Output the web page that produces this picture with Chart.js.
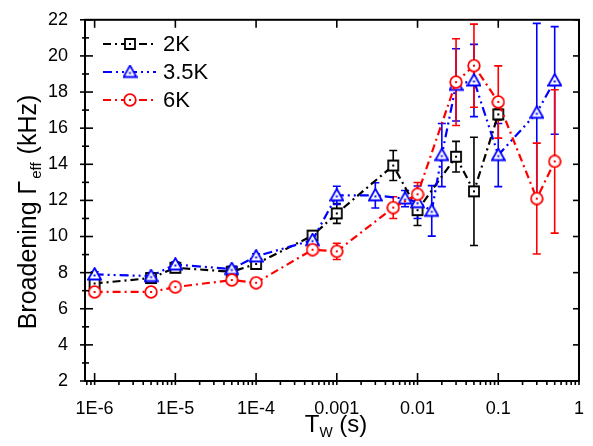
<!DOCTYPE html>
<html>
<head>
<meta charset="utf-8">
<script src="https://cdn.jsdelivr.net/npm/chart.js@4/dist/chart.umd.min.js"></script>
<style>
  html, body { margin: 0; padding: 0; background: #fff; }
  #wrap { width: 593px; height: 446px; }
</style>
</head>
<body>
<div id="wrap"><canvas id="myChart"></canvas></div>
<script>
// tick labels
const xTicks = [1e-6, 1e-5, 1e-4, 1e-3, 1e-2, 1e-1, 1];
const xTickLabels = ['1E-6', '1E-5', '1E-4', '0.001', '0.01', '0.1', '1'];
const yTicks = [2, 4, 6, 8, 10, 12, 14, 16, 18, 20, 22];

// 2K
const tw2K = [1e-6, 5e-6, 1e-5, 5e-5, 1e-4, 5e-4, 1e-3, 5e-3, 1e-2, 3e-2, 5e-2, 1e-1];
const gamma2K = [7.4, 7.7, 8.27, 8.05, 8.48, 10.05, 11.28, 13.93, 11.46, 14.42, 12.5, 16.76];
const err2K = [0.15, 0.1, 0.1, 0.1, 0.15, 0.2, 0.55, 0.83, 0.85, 0.85, 3.0, 0.3];

// 3.5K
const tw35K = [1e-6, 5e-6, 1e-5, 5e-5, 1e-4, 5e-4, 1e-3, 3e-3, 7e-3, 1e-2, 1.5e-2, 2e-2, 3e-2, 5e-2, 1e-1, 3e-1, 5e-1];
const gamma35K = [7.9, 7.81, 8.45, 8.2, 8.9, 9.8, 12.28, 12.28, 12.1, 11.9, 11.42, 14.51, 18.4, 18.64, 14.51, 16.85, 18.64];
const err35K = [0.15, 0.15, 0.15, 0.15, 0.15, 0.2, 0.5, 0.7, 0.45, 0.9, 1.4, 1.75, 2.0, 2.0, 1.75, 4.95, 2.98];

// 6K
const tw6K = [1e-6, 5e-6, 1e-5, 5e-5, 1e-4, 5e-4, 1e-3, 5e-3, 1e-2, 3e-2, 5e-2, 1e-1, 3e-1, 5e-1];
const gamma6K = [6.93, 6.93, 7.2, 7.59, 7.44, 9.27, 9.18, 11.6, 12.34, 18.55, 19.46, 17.45, 12.1, 14.16];
const err6K = [0.15, 0.15, 0.1, 0.1, 0.1, 0.15, 0.45, 0.6, 0.65, 2.4, 2.3, 2.0, 3.07, 3.97];

const FONT = '"Liberation Sans", Arial, sans-serif';

function marker(kind, color) {
  const c = document.createElement('canvas');
  const s = kind === 'triangle' ? 15 : 14;
  c.width = s; c.height = s;
  const g = c.getContext('2d');
  g.strokeStyle = color;
  g.fillStyle = '#fff';
  g.lineWidth = 1.8;
  const m = s / 2;
  g.beginPath();
  if (kind === 'square') {
    g.rect(m - 5, m - 5, 10, 10);
  } else if (kind === 'triangle') {
    g.moveTo(m, m - 6.5);
    g.lineTo(m + 6.5, m + 5);
    g.lineTo(m - 6.5, m + 5);
    g.closePath();
  } else {
    g.arc(m, m, 5.8, 0, Math.PI * 2);
  }
  g.fill();
  g.stroke();
  g.fillStyle = color;
  g.fillRect(m - 1, (kind === 'triangle' ? m + 1 : m) - 1, 2, 2);
  return c;
}

const toPoints = (xs, ys) => xs.map((x, i) => ({ x, y: ys[i] }));

const errorBars = {
  id: 'errorBars',
  beforeDatasetsDraw(chart) {
    const { ctx, scales: { y } } = chart;
    chart.data.datasets.forEach((ds, di) => {
      const meta = chart.getDatasetMeta(di);
      ctx.save();
      ctx.strokeStyle = ds.borderColor;
      ctx.lineWidth = 1.6;
      meta.data.forEach((pt, i) => {
        const v = ds.data[i].y, e = ds.err[i];
        const top = y.getPixelForValue(v + e), bot = y.getPixelForValue(v - e);
        ctx.beginPath();
        ctx.moveTo(pt.x, top); ctx.lineTo(pt.x, bot);
        ctx.moveTo(pt.x - 4, top); ctx.lineTo(pt.x + 4, top);
        ctx.moveTo(pt.x - 4, bot); ctx.lineTo(pt.x + 4, bot);
        ctx.stroke();
      });
      ctx.restore();
    });
  }
};

const frame = {
  id: 'frame',
  afterDraw(chart) {
    const { ctx, chartArea: a, scales: { x, y } } = chart;
    ctx.save();
    ctx.strokeStyle = '#000';
    const seg = (x1, y1, x2, y2) => { ctx.beginPath(); ctx.moveTo(x1, y1); ctx.lineTo(x2, y2); ctx.stroke(); };
    ctx.lineWidth = 1.6;
    for (let e = -7; e <= 0; e++) {
      for (let m = 1; m <= 9; m++) {
        const v = m * Math.pow(10, e);
        if (v < x.min || v > x.max) continue;
        const px = x.getPixelForValue(v);
        if (m === 1) {
          seg(px, a.bottom + 4, px, a.bottom - 8);
          seg(px, a.top, px, a.top + 8);
        } else {
          seg(px, a.bottom, px, a.bottom + 4);
        }
      }
    }
    for (let v = 2; v <= 22; v++) {
      const py = y.getPixelForValue(v);
      if (v % 2 === 0) {
        seg(a.left - 5, py, a.left + 8, py);
        seg(a.right, py, a.right - 6, py);
      } else {
        seg(a.left - 3, py, a.left + 4, py);
      }
    }
    ctx.lineWidth = 2;
    ctx.strokeRect(a.left, a.top, a.right - a.left, a.bottom - a.top);

    // axis titles
    ctx.fillStyle = '#000';
    ctx.textBaseline = 'alphabetic';
    const big = '24px ' + FONT, small = '14px ' + FONT;
    // x title: T_W (s)
    ctx.font = big; const wT = ctx.measureText('T').width;
    ctx.font = small; const wW = ctx.measureText('W').width;
    ctx.font = big; const wS = ctx.measureText(' (s)').width;
    let sx = (a.left + a.right) / 2 - (wT + wW + wS) / 2 + 4;
    const by = 432;
    ctx.font = big; ctx.fillText('T', sx, by); sx += wT;
    ctx.font = small; ctx.fillText('W', sx, by + 5); sx += wW;
    ctx.font = big; ctx.fillText(' (s)', sx, by);

    // y title: Broadening Γ_eff (kHz)
    const ybig = '25px ' + FONT, ysmall = '15px ' + FONT;
    ctx.translate(36, 212);
    ctx.rotate(-Math.PI / 2);
    ctx.font = ybig; const w1 = ctx.measureText('Broadening Γ').width;
    ctx.font = ysmall; const w2 = ctx.measureText('eff').width + 3;
    ctx.font = ybig; const w3 = ctx.measureText(' (kHz)').width;
    let tx = -(w1 + w2 + w3) / 2;
    ctx.font = ybig; ctx.fillText('Broadening Γ', tx, 0); tx += w1 + 2;
    ctx.font = ysmall; ctx.fillText('eff', tx, 5); tx += w2 - 2;
    ctx.font = ybig; ctx.fillText(' (kHz)', tx, 0);
    ctx.restore();

    // legend inside plot
    ctx.save();
    const rows = [44, 72, 100];
    chart.data.datasets.forEach((ds, i) => {
      const yy = rows[i];
      ctx.strokeStyle = ds.borderColor;
      ctx.lineWidth = 2.2;
      ctx.setLineDash(ds.borderDash);
      seg(103, yy, 156, yy);
      ctx.setLineDash([]);
      const img = ds.pointStyle;
      ctx.drawImage(img, 130 - img.width / 2, yy - img.height / 2);
      ctx.fillStyle = '#000';
      ctx.font = '22px ' + FONT;
      ctx.textBaseline = 'middle';
      ctx.fillText(ds.label, 163, yy + 1);
    });
    ctx.restore();
  }
};

const ctx = document.getElementById('myChart').getContext('2d');
const myChart = new Chart(ctx, {
  type: 'line',
  data: {
    datasets: [
      {
        label: '2K',
        data: toPoints(tw2K, gamma2K),
        err: err2K,
        borderColor: '#000000',
        borderDash: [8, 4, 2, 4],
        pointStyle: marker('square', '#000000'),
        order: 2,
      },
      {
        label: '3.5K',
        data: toPoints(tw35K, gamma35K),
        err: err35K,
        borderColor: '#0000ff',
        borderDash: [9, 4, 2, 4, 2, 4],
        pointStyle: marker('triangle', '#0000ff'),
        order: 1,
      },
      {
        label: '6K',
        data: toPoints(tw6K, gamma6K),
        err: err6K,
        borderColor: '#ff0000',
        borderDash: [8, 4, 2, 4],
        pointStyle: marker('circle', '#ff0000'),
        order: 0,
      },
    ],
  },
  options: {
    responsive: true,
    maintainAspectRatio: false,
    animation: false,
    elements: { line: { borderWidth: 2.2, tension: 0, fill: false } },
    layout: { padding: { left: 0, right: 5, top: 16, bottom: 0 } },
    scales: {
      x: {
        type: 'logarithmic',
        min: 7.6e-7,
        max: 1,
        grid: { display: false },
        border: { display: false },
        afterBuildTicks: (s) => { s.ticks = xTicks.map((v) => ({ value: v, major: true })); },
        afterFit: (s) => { s.height = 65; },
        ticks: {
          autoSkip: false,
          maxRotation: 0,
          padding: 9,
          color: '#000',
          font: { family: FONT, size: 18 },
          callback: (v, i) => xTickLabels[i],
        },
      },
      y: {
        min: 2,
        max: 22,
        grid: { display: false },
        border: { display: false },
        afterBuildTicks: (s) => { s.ticks = yTicks.map((v) => ({ value: v })); },
        afterFit: (s) => { s.width = 85; },
        ticks: {
          padding: 9,
          color: '#000',
          font: { family: FONT, size: 18 },
        },
      },
    },
    plugins: {
      legend: { display: false },
      tooltip: { enabled: false },
    },
  },
  plugins: [errorBars, frame],
});
</script>
</body>
</html>
